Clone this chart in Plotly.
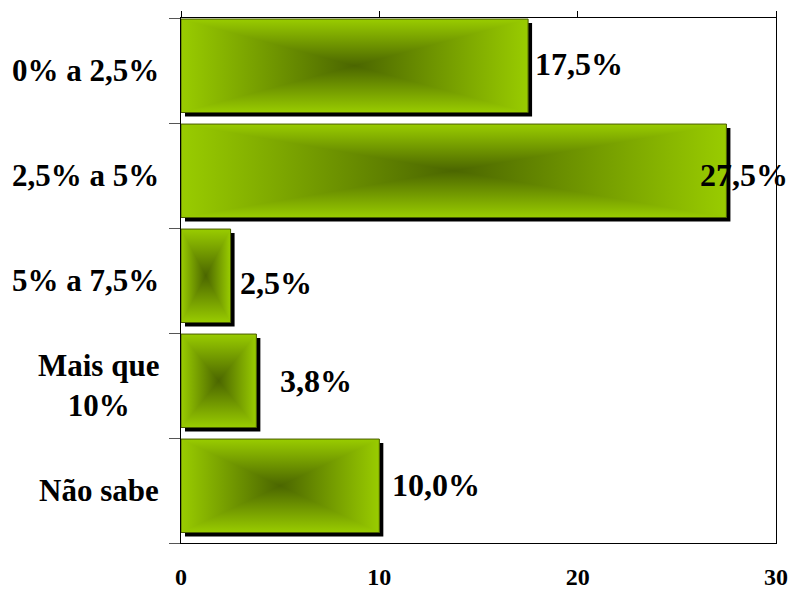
import plotly.graph_objects as go

# Survey answers (share of respondents, %)
categories = ["0% a 2,5%", "2,5% a 5%", "5% a 7,5%", "Mais que<br>10%", "Não sabe"]
values = [17.5, 27.5, 2.5, 3.8, 10.0]
value_labels = ["17,5%", "27,5%", "2,5%", "3,8%", "10,0%"]
x_ticks = [0, 10, 20, 30]

# ---- layout geometry ----
W, H = 790, 590
ML, MR, MT, MB = 181, 14, 18, 47
X_RANGE = [0, 30]
Y_RANGE = [len(categories) - 0.5, -0.5]          # first category on top
px_x = (W - ML - MR) / (X_RANGE[1] - X_RANGE[0])
px_y = (H - MT - MB) / len(categories)

BAR_TOP, BAR_BOT = -0.49, 0.40                  # bar extent relative to row centre
SHADOW_PX = 4
EDGE = "#99CC00"
CENTER = "#4B6600"
FONT = "Liberation Serif, Times New Roman, serif"

# per-label nudges in pixels (right, down)
label_nudge = [(5, -7), (-28, -0.5), (7, 2.5), (22, -4.5), (11, -5.5)]

fig = go.Figure()


def poly(xs, ys, **kw):
    fig.add_trace(go.Scatter(x=xs + xs[:1], y=ys + ys[:1], mode="lines", fill="toself",
                             hoverinfo="skip", showlegend=False, **kw))


dx = SHADOW_PX / px_x
dy = SHADOW_PX / px_y
for i, v in enumerate(values):
    top, bot = i + BAR_TOP, i + BAR_BOT
    cx, cy = v / 2, (top + bot) / 2
    # drop shadow
    poly([dx, v + dx, v + dx, dx], [top + dy, top + dy, bot + dy, bot + dy],
         fillcolor="black", line=dict(width=0))
    # dark core under everything
    poly([0, v, v, 0], [top, top, bot, bot], fillcolor=CENTER, line=dict(width=0))
    # vertical gradient over the upper and lower halves
    poly([0, v, v, 0], [top, top, cy, cy], line=dict(width=0),
         fillgradient=dict(type="vertical", start=top, stop=cy,
                           colorscale=[[0, EDGE], [1, CENTER]]))
    poly([0, v, v, 0], [cy, cy, bot, bot], line=dict(width=0),
         fillgradient=dict(type="vertical", start=cy, stop=bot,
                           colorscale=[[0, CENTER], [1, EDGE]]))
    # horizontal gradient on the left and right triangles -> rectangular gradient
    poly([0, cx, 0], [top, cy, bot], line=dict(width=0),
         fillgradient=dict(type="horizontal", start=0, stop=cx,
                           colorscale=[[0, EDGE], [1, CENTER]]))
    poly([v, cx, v], [top, cy, bot], line=dict(width=0),
         fillgradient=dict(type="horizontal", start=cx, stop=v,
                           colorscale=[[0, CENTER], [1, EDGE]]))
    # outline
    fig.add_trace(go.Scatter(x=[0, v, v, 0, 0], y=[top, top, bot, bot, top], mode="lines",
                             line=dict(color="#4A5E00", width=1), hoverinfo="skip",
                             showlegend=False))

    # value label
    ndx, ndy = label_nudge[i]
    fig.add_annotation(x=v, y=i, xref="x", yref="y", text=value_labels[i], showarrow=False,
                       xanchor="left", yanchor="middle", xshift=ndx, yshift=-ndy,
                       font=dict(family=FONT, size=32, color="black", weight="bold"))
    # category label
    fig.add_annotation(x=0, y=i, xref="paper", yref="y", text=categories[i], showarrow=False,
                       xanchor="right", yanchor="middle", xshift=-20, align="center",
                       font=dict(family=FONT, size=31, color="black", weight="bold"))

# helper trace so the top axis (tick marks only) is drawn
fig.add_trace(go.Scatter(x=[0], y=[0], xaxis="x2", mode="markers",
                         marker=dict(opacity=0), hoverinfo="skip", showlegend=False))

fig.update_layout(
    width=W, height=H,
    margin=dict(l=ML, r=MR, t=MT, b=MB, pad=0, autoexpand=False),
    plot_bgcolor="white", paper_bgcolor="white",
    xaxis=dict(range=X_RANGE, tickvals=x_ticks, ticks="", showgrid=False, zeroline=False,
               showline=True, linecolor="black", linewidth=1, mirror=True,
               automargin=False, ticklabelstandoff=12,
               tickfont=dict(family=FONT, size=24, color="black", weight="bold")),
    xaxis2=dict(range=X_RANGE, tickvals=x_ticks, overlaying="x", side="top", anchor="y",
                ticks="outside", ticklen=6, tickcolor="black", showticklabels=False,
                showgrid=False, zeroline=False, showline=False, automargin=False),
    yaxis=dict(range=Y_RANGE, tickvals=[k - 0.5 for k in range(len(categories) + 1)],
               ticks="outside", ticklen=11, tickcolor="#555555", showticklabels=False,
               showgrid=False, zeroline=False, showline=True, linecolor="black",
               linewidth=1, mirror=True, automargin=False),
)

fig.write_html("out.html")
